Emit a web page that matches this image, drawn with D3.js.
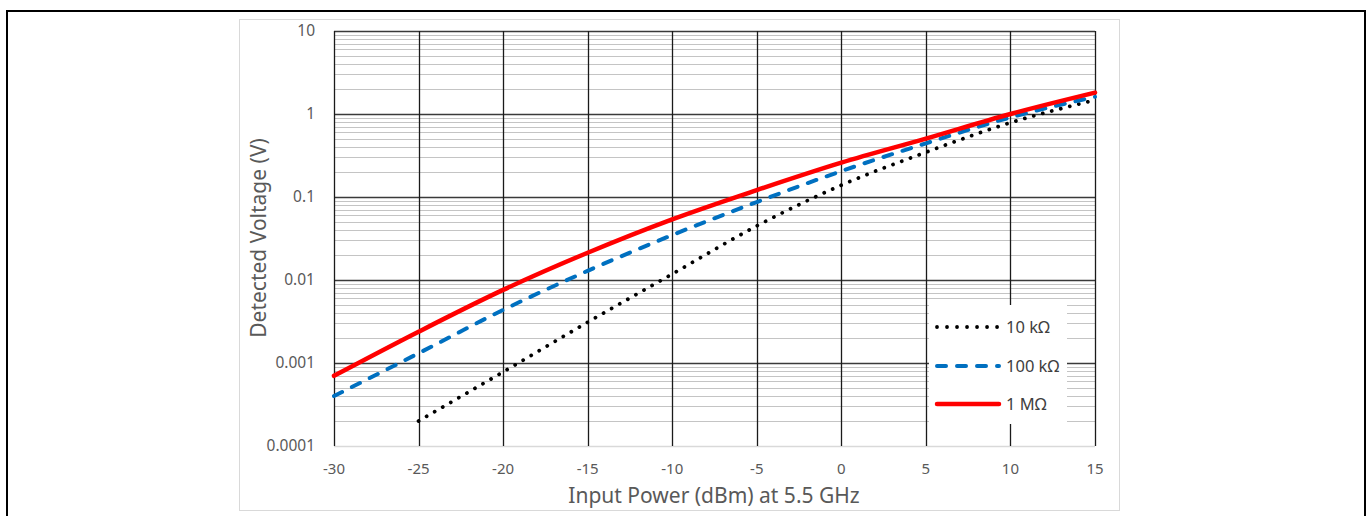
<!DOCTYPE html>
<html>
<head>
<meta charset="utf-8">
<script src="https://cdn.jsdelivr.net/npm/d3@7"></script>
<style>
  body{margin:0;background:#fff;}
  text{font-family:"Noto Sans",sans-serif;}
</style>
</head>
<body>
<div id="chart"></div>
<script>
// data (dBm -> V)
var power=[-30,-25,-20,-15,-10,-5,0,5,10,15];
var v10k=[null,0.0002,0.00078,0.0031,0.0118,0.0448,0.139,0.346,0.785,1.47];
var v100k=[0.0004,0.00131,0.00436,0.0129,0.0348,0.087,0.205,0.443,0.91,1.61];
var v1M=[0.0007,0.00238,0.0076,0.0213,0.0538,0.121,0.259,0.505,1.0,1.81];
var seriesNames=["10 kΩ","100 kΩ","1 MΩ"];
var xTicks=[-30,-25,-20,-15,-10,-5,0,5,10,15];
var yTicks=[0.0001,0.001,0.01,0.1,1,10];
var yTickLabels=["0.0001","0.001","0.01","0.1","1","10"];

var width=1370,height=516,
    margin={"left":334,"top":31,"right":275,"bottom":70};

var svg=d3.select("#chart")
    .append("svg")
    .attr("width",width)
    .attr("height",height)

// outer border and chart frame
svg.append("rect")
    .attr("x",7).attr("y",11)
    .attr("width",1358).attr("height",520)
    .attr("fill","none").attr("stroke","#000").attr("stroke-width",2)
svg.append("rect")
    .attr("x",239.5).attr("y",19.5)
    .attr("width",880).attr("height",491)
    .attr("fill","#fff").attr("stroke","#d9d9d9").attr("stroke-width",1)

var x=d3.scaleLinear()
    .domain([-30,15])
    .range([margin.left,width-margin.right])
var y=d3.scaleLog()
    .domain([0.0001,10])
    .range([height-margin.bottom,margin.top])

var grid=svg.append("g")

// minor horizontal lines (2..9 in every decade)
var minor=y.ticks().filter(function (d) {
    return yTicks.indexOf(d)<0;
})
grid.selectAll(".minor")
    .data(minor)
    .enter()
    .append("line")
    .attr("x1",x(-30)).attr("x2",x(15))
    .attr("y1",function (d) {return Math.round(y(d))+0.5})
    .attr("y2",function (d) {return Math.round(y(d))+0.5})
    .attr("stroke","#c4c4c4")
    .attr("stroke-width",1)

// bottom axis line
grid.append("line")
    .attr("x1",x(-30)).attr("x2",x(15))
    .attr("y1",Math.round(y(0.0001))+0.5).attr("y2",Math.round(y(0.0001))+0.5)
    .attr("stroke","#d9d9d9").attr("stroke-width",1.5)

// major horizontal lines
grid.selectAll(".major")
    .data(yTicks.slice(1))
    .enter()
    .append("line")
    .attr("x1",x(-30)).attr("x2",x(15))
    .attr("y1",function (d) {return Math.round(y(d))+0.5})
    .attr("y2",function (d) {return Math.round(y(d))+0.5})
    .attr("stroke","#3a3a3a")
    .attr("stroke-width",1.3)

// vertical lines
grid.selectAll(".vert")
    .data(xTicks)
    .enter()
    .append("line")
    .attr("x1",function (d) {return Math.round(x(d))+0.5})
    .attr("x2",function (d) {return Math.round(x(d))+0.5})
    .attr("y1",y(10)).attr("y2",y(0.0001))
    .attr("stroke","#1a1a1a")
    .attr("stroke-width",1.3)

// tick labels
svg.selectAll(".ylab")
    .data(yTicks)
    .enter()
    .append("text")
    .attr("x",315)
    .attr("y",function (d) {return y(d)})
    .attr("dy","0.35em")
    .attr("text-anchor","end")
    .attr("font-size",15.5)
    .attr("fill","#595959")
    .text(function (d,i) {return yTickLabels[i]})

svg.selectAll(".xlab")
    .data(xTicks)
    .enter()
    .append("text")
    .attr("x",function (d) {return x(d)})
    .attr("y",469)
    .attr("dy","0.35em")
    .attr("text-anchor","middle")
    .attr("font-size",15)
    .attr("fill","#595959")
    .text(function (d) {return d})

// axis titles
svg.append("text")
    .attr("x",714)
    .attr("y",496)
    .attr("dy","0.35em")
    .attr("text-anchor","middle")
    .attr("font-size",21)
    .attr("fill","#595959")
    .text("Input Power (dBm) at 5.5 GHz")

svg.append("text")
    .attr("transform","translate(259,238) rotate(-90)")
    .attr("dy","0.35em")
    .attr("text-anchor","middle")
    .attr("font-size",21)
    .attr("fill","#595959")
    .text("Detected Voltage (V)")

// curves
var styles=[
    {color:"#000",width:3.8,dash:"0.01 9.3"},
    {color:"#0070c0",width:4,dash:"9 11"},
    {color:"#ff0000",width:4.5,dash:null}
];
var series=[v10k,v100k,v1M];

var line=d3.line()
    .x(function (d) {return x(d[0])})
    .y(function (d) {return y(d[1])})
    .curve(d3.curveMonotoneX)

series.forEach(function (s,i) {
    var pts=power.map(function (p,j) {return [p,s[j]]}).filter(function (d) {return d[1]!=null});
    svg.append("path")
        .attr("d",line(pts))
        .attr("fill","none")
        .attr("stroke",styles[i].color)
        .attr("stroke-width",styles[i].width)
        .attr("stroke-linecap","round")
        .attr("stroke-dasharray",styles[i].dash)
})

// legend
var legend=svg.append("g")
legend.append("rect")
    .attr("x",929).attr("y",305)
    .attr("width",138).attr("height",119)
    .attr("fill","#fff")

var legY=[327,366,404];
seriesNames.forEach(function (name,i) {
    legend.append("line")
        .attr("x1",937).attr("x2",999)
        .attr("y1",legY[i]).attr("y2",legY[i])
        .attr("stroke",styles[i].color)
        .attr("stroke-width",styles[i].width)
        .attr("stroke-linecap","round")
        .attr("stroke-dasharray",i==0?"0.01 10":styles[i].dash)
    legend.append("text")
        .attr("x",1006)
        .attr("y",legY[i])
        .attr("dy","0.35em")
        .attr("font-size",16.5)
        .attr("fill","#404040")
        .text(name)
})
</script>
</body>
</html>
